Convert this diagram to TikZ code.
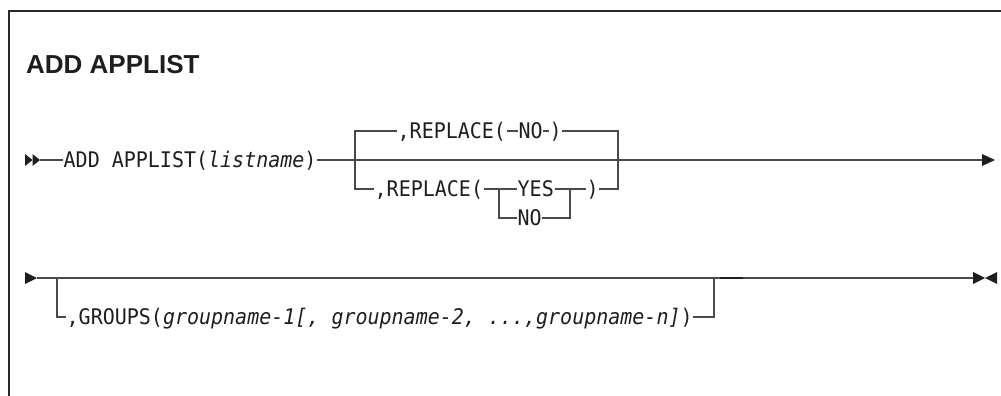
\documentclass[tikz,border=0pt]{standalone}
\usepackage{fontspec}
\setmonofont[FakeStretch=0.93]{DejaVu Sans Mono}
\newfontfamily\titlefont{Liberation Sans}
\definecolor{linec}{HTML}{4A4A4A}
\definecolor{txtc}{HTML}{1E1E1E}
\definecolor{bordc}{HTML}{2A2A2A}
\begin{document}
\begin{tikzpicture}[x=1pt,y=-1pt,
  trk/.style={draw=linec, line width=1.6pt, line join=miter, line cap=butt},
  lbl/.style={inner xsep=0.5pt, inner ysep=0pt, text height=15.6pt, text depth=0pt, anchor=west,
              font=\ttfamily\fontsize{21.5}{25}\selectfont, text=txtc},
  tip/.style={fill=txtc, draw=none}]
\useasboundingbox (0,0) rectangle (1001,396);
% frame
\draw[line width=2pt, draw=bordc] (1001,11.5) -- (8.5,11.5) -- (8.5,396);
\node[anchor=base west, inner sep=0, font=\titlefont\bfseries\fontsize{26}{30}\selectfont, text=txtc] (title) at (26,74) {ADD APPLIST};

% ---- line 1
\fill[tip] (25,154) -- (32.5,160) -- (25,166) -- cycle;
\fill[tip] (32.5,154) -- (40,160) -- (32.5,166) -- cycle;
\coordinate (a0) at (40,160);
\coordinate (e1) at (982,160);
\node[lbl] (add) at (63,160) {ADD APPLIST(\textit{listname})};
\draw[trk] (a0) -- (add.west);
\draw[trk] (add.east) -- (e1);
\fill[tip] (982,154) -- (995,160) -- (982,166) -- cycle;

% bracket corners
\coordinate (ul) at (355,131); \coordinate (ur) at (618,131);
\coordinate (ll) at (355,189); \coordinate (lr) at (618,189);
% upper (default) branch
\node[lbl] (r1) at (397,131) {,REPLACE(};
\node[lbl] (r1no) at (518,131) {NO};
\node[lbl] (r1cp) at (549,131) {)};
% lower branch
\node[lbl] (r2) at (374,189) {,REPLACE(};
\node[lbl] (yes) at (517,189) {YES};
\node[lbl] (no) at (517,218) {NO};
\node[lbl] (r2cp) at (586,189) {)};
\coordinate (yl) at (499,189); \coordinate (yr) at (570,189);
\coordinate (nl) at (499,218); \coordinate (nr) at (570,218);

\draw[trk] (r1.west) -- (ul) -- (ll) -- (r2.west);
\draw[trk] (r1.east) -- (r1no.west);
\draw[trk] (r1no.east) -- (r1cp.west);
\draw[trk] (r1cp.east) -- (ur) -- (lr) -- (r2cp.east);
\draw[trk] (r2.east) -- (yes.west);
\draw[trk] (yes.east) -- (r2cp.west);
\draw[trk] (yl) -- (nl) -- (no.west);
\draw[trk] (no.east) -- (nr) -- (yr);

% ---- line 2
\fill[tip] (25,272) -- (37,278) -- (25,284) -- cycle;
\coordinate (b0) at (37,278);
\coordinate (e2) at (973,278);
\coordinate (gl) at (57,278); \coordinate (gr) at (714,278);
\coordinate (gbl) at (57,317); \coordinate (gbr) at (714,317);
\node[lbl] (grp) at (66,317) {,GROUPS(\textit{groupname-1[, groupname-2, ...,groupname-n]})};
\draw[trk] (b0) -- (e2);
\draw[trk] (gl) -- (gbl) -- (grp.west);
\draw[trk] (grp.east) -- (gbr) -- (gr);
\draw[line width=2.6pt, draw=txtc] (720,278) -- (743,278);
\fill[tip] (973,272) -- (985,278) -- (973,284) -- cycle;
\fill[tip] (997,272) -- (985,278) -- (997,284) -- cycle;
\end{tikzpicture}
\end{document}
